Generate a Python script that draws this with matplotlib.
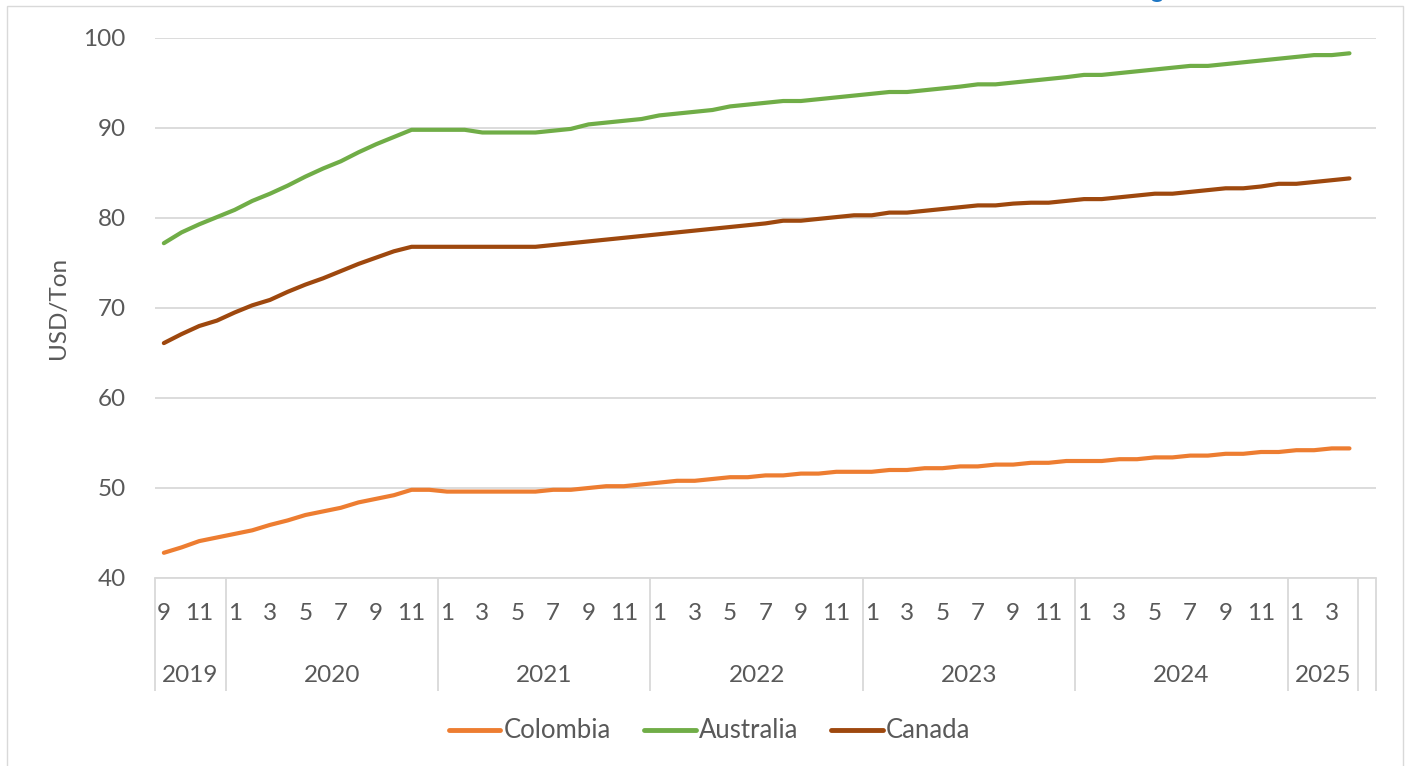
import matplotlib
matplotlib.use("Agg")
import matplotlib.pyplot as plt
import matplotlib.transforms as mtransforms
from matplotlib.patches import Rectangle, Circle

plt.rcParams['font.family'] = ['Lato', 'DejaVu Sans']

# ---- data (monthly, Sep 2019 .. Apr 2025) ----
years = [2019] * 4 + [2020] * 12 + [2021] * 12 + [2022] * 12 + [2023] * 12 + [2024] * 12 + [2025] * 4
months = list(range(9, 13)) + list(range(1, 13)) * 5 + list(range(1, 5))

colombia = [42.8, 43.4, 44.1, 44.5, 44.9, 45.3, 45.9, 46.4, 47.0, 47.4, 47.8, 48.4, 48.8, 49.2, 49.8, 49.8,
            49.6, 49.6, 49.6, 49.6, 49.6, 49.6, 49.8, 49.8, 50.0, 50.2, 50.2, 50.4,
            50.6, 50.8, 50.8, 51.0, 51.2, 51.2, 51.4, 51.4, 51.6, 51.6, 51.8, 51.8,
            51.8, 52.0, 52.0, 52.2, 52.2, 52.4, 52.4, 52.6, 52.6, 52.8, 52.8, 53.0,
            53.0, 53.0, 53.2, 53.2, 53.4, 53.4, 53.6, 53.6, 53.8, 53.8, 54.0, 54.0,
            54.2, 54.2, 54.4, 54.4]
australia = [77.2, 78.4, 79.3, 80.1, 80.9, 81.9, 82.7, 83.6, 84.6, 85.5, 86.3, 87.3, 88.2, 89.0, 89.8, 89.8,
             89.8, 89.8, 89.5, 89.5, 89.5, 89.5, 89.7, 89.9, 90.4, 90.6, 90.8, 91.0,
             91.4, 91.6, 91.8, 92.0, 92.4, 92.6, 92.8, 93.0, 93.0, 93.2, 93.4, 93.6,
             93.8, 94.0, 94.0, 94.2, 94.4, 94.6, 94.85, 94.85, 95.05, 95.25, 95.45, 95.65,
             95.9, 95.9, 96.1, 96.3, 96.5, 96.7, 96.9, 96.9, 97.1, 97.3, 97.5, 97.7,
             97.9, 98.1, 98.1, 98.3]
canada = [66.1, 67.1, 68.0, 68.6, 69.5, 70.3, 70.9, 71.8, 72.6, 73.3, 74.1, 74.9, 75.6, 76.3, 76.8, 76.8,
          76.8, 76.8, 76.8, 76.8, 76.8, 76.8, 77.0, 77.2, 77.4, 77.6, 77.8, 78.0,
          78.2, 78.4, 78.6, 78.8, 79.0, 79.2, 79.4, 79.7, 79.7, 79.9, 80.1, 80.3,
          80.3, 80.6, 80.6, 80.8, 81.0, 81.2, 81.4, 81.4, 81.6, 81.7, 81.7, 81.9,
          82.1, 82.1, 82.3, 82.5, 82.7, 82.7, 82.9, 83.1, 83.3, 83.3, 83.5, 83.8,
          83.8, 84.0, 84.2, 84.4]

series_names = ["Colombia", "Australia", "Canada"]
series_colors = ["#ED7D31", "#70AD47", "#9E480E"]
y_label = "USD/Ton"

W, H = 1408, 766
fig = plt.figure(figsize=(W / 100, H / 100), dpi=100)
ax = fig.add_axes([155 / W, 1 - 578 / H, (1376 - 155) / W, (578 - 38) / H])

n = len(months)
x = list(range(n))
for vals, name, col in zip([colombia, australia, canada], series_names, series_colors):
    ax.plot(x, vals, color=col, lw=3.0, label=name, solid_capstyle='round', solid_joinstyle='round', zorder=3)

ax.set_xlim(-0.5, n + 0.5)
ax.set_ylim(40, 100)
ax.set_yticks(range(40, 101, 10))
ax.grid(axis='y', color='#D9D9D9', lw=1.3, zorder=0)
for s in ['top', 'right', 'left']:
    ax.spines[s].set_visible(False)
ax.spines['bottom'].set_color('#D9D9D9')
ax.spines['bottom'].set_linewidth(1.3)

txt = '#595959'
FS = 17.5
ax.tick_params(axis='y', length=0, pad=21, labelsize=FS, labelcolor=txt)

# month ticks (odd months)
mt = [i for i, m in enumerate(months) if m % 2 == 1]
ax.set_xticks(mt)
ax.set_xticklabels([str(months[i]) for i in mt])
ax.tick_params(axis='x', which='major', length=0, pad=18, labelsize=FS, labelcolor=txt)

# year boundaries as long minor ticks
bounds = [-0.5]
for i in range(1, n):
    if years[i] != years[i - 1]:
        bounds.append(i - 0.5)
bounds.append(n - 0.5)
bounds.append(n + 0.5)
ax.set_xticks(bounds, minor=True)
ax.tick_params(axis='x', which='minor', length=81, width=1.3, color='#D9D9D9', direction='out')

# year labels
trans = mtransforms.blended_transform_factory(ax.transData, ax.transAxes)
uniq = []
for y in years:
    if y not in uniq:
        uniq.append(y)
for yv in uniq:
    idx = [i for i, y in enumerate(years) if y == yv]
    c = (idx[0] + idx[-1]) / 2
    ax.text(c, -97 / 540, str(yv), transform=trans, ha='center', va='center',
            fontsize=FS, color=txt)

ax.set_ylabel(y_label, fontsize=FS, color=txt)
ax.yaxis.set_label_coords(-86 / 1221, 0.5)

leg = fig.legend(loc='center', bbox_to_anchor=(0.504, 1 - 731 / H), ncol=3, frameon=False,
                 fontsize=18.5, handlelength=2.0, handletextpad=0.12, columnspacing=1.3)
for t in leg.get_texts():
    t.set_color(txt)
for l in leg.get_lines():
    l.set_linewidth(3.5)
    l.set_solid_capstyle('round')

# outer frame and small blue fragment at top
fig.patches.append(Rectangle((7 / W, -0.05), (1403 - 7) / W, 1.05 - 6 / H, transform=fig.transFigure,
                             fill=False, edgecolor='#D9D9D9', lw=1.0))
fig.patches.append(Circle((1157 / W, 1 + 1 / H), 5.5 / W, transform=fig.transFigure,
                          facecolor='#1F77C4', edgecolor='none'))

fig.savefig("out.png", dpi=100)
